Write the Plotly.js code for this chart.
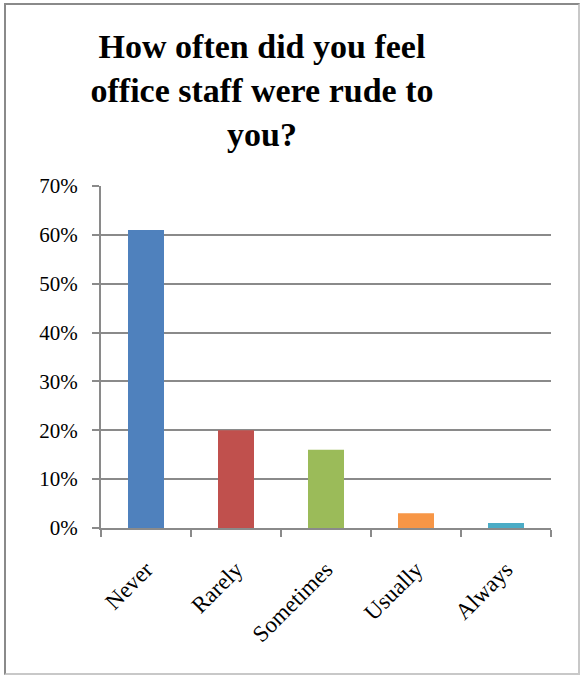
<!DOCTYPE html>
<html>
<head>
<meta charset="utf-8">
<script src="https://cdn.plot.ly/plotly-3.0.1.min.js"></script>
<style>
html,body{margin:0;padding:0;background:#fff;}
#wrap{position:relative;width:581px;height:675px;}
#chart{position:absolute;left:0;top:0;width:581px;height:675px;}
#frame{position:absolute;left:4px;top:3px;width:572px;height:668px;border:2px solid #8a8a8a;border-right-color:#c8c8c8;border-bottom-color:#c8c8c8;pointer-events:none;}
</style>
</head>
<body>
<div id="wrap"><div id="chart"></div><div id="frame"></div></div>
<script>
const categories = ["Never", "Rarely", "Sometimes", "Usually", "Always"];
const values = [0.61, 0.20, 0.16, 0.03, 0.01];
const colors = ["#4F81BD", "#C0504D", "#9BBB59", "#F79646", "#4BACC6"];
const yTicks = [0, 0.1, 0.2, 0.3, 0.4, 0.5, 0.6, 0.7];
const yTickLabels = ["0%", "10%", "20%", "30%", "40%", "50%", "60%", "70%"];

const serif = "Liberation Serif, Times New Roman, serif";

Plotly.newPlot("chart", [{
  type: "bar",
  x: categories,
  y: values,
  marker: {color: colors},
  hoverinfo: "x+y"
}], {
  width: 581,
  height: 675,
  margin: {l: 101, r: 30, t: 186, b: 147},
  paper_bgcolor: "#ffffff",
  plot_bgcolor: "#ffffff",
  bargap: 0.6,
  showlegend: false,
  title: {
    text: "How often did you feel<br>office staff were rude to<br>you?",
    font: {family: serif, size: 34, color: "#000000", weight: "bold"},
    x: 262/581, xref: "container", xanchor: "center",
    y: 1 - 58/675, yref: "container", yanchor: "top"
  },
  xaxis: {
    type: "category",
    tickangle: -45,
    ticks: "outside",
    tickson: "boundaries",
    ticklen: 7,
    tickwidth: 2,
    tickcolor: "#8a8a8a",
    showline: true,
    linecolor: "#8a8a8a",
    linewidth: 2,
    showgrid: false,
    tickfont: {family: serif, size: 23, color: "#000000"},
    ticklabelstandoff: 17,
    fixedrange: true
  },
  yaxis: {
    range: [0, 0.7],
    tickvals: yTicks,
    ticktext: yTickLabels,
    ticks: "outside",
    ticklen: 7,
    tickwidth: 2,
    tickcolor: "#8a8a8a",
    showline: true,
    linecolor: "#8a8a8a",
    linewidth: 2,
    showgrid: true,
    gridcolor: "#8a8a8a",
    gridwidth: 2,
    zeroline: false,
    tickfont: {family: serif, size: 21, color: "#000000"},
    ticklabelstandoff: 10,
    fixedrange: true
  }
}, {displayModeBar: false, staticPlot: true});
</script>
</body>
</html>
